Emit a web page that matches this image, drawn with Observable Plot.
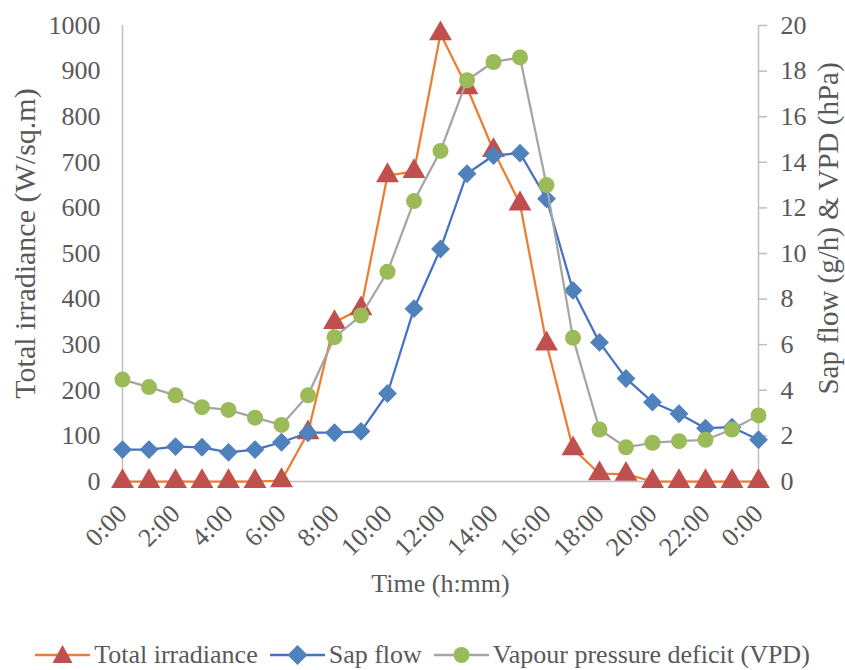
<!DOCTYPE html>
<html><head><meta charset="utf-8">
<script src="https://cdn.jsdelivr.net/npm/d3@7"></script>
<script src="https://cdn.jsdelivr.net/npm/@observablehq/plot@0.6"></script>
<style>
html,body{margin:0;padding:0;background:#fff;overflow:hidden;}
body{font-family:"Liberation Serif",Tinos,"Times New Roman","Noto Serif","DejaVu Serif",serif;color:#595959;}
#chart{width:845px;height:615px;}
.legend{display:flex;justify-content:center;align-items:center;font-size:26px;height:34px;margin-top:23px;white-space:nowrap;}
.legend .item{display:flex;align-items:center;margin:0 6px;}
.legend svg{margin-right:4px;}
</style></head><body>
<div id="chart"></div>
<div class="legend" id="legend"></div>
<script>
const timeLabels = ["0:00","1:00","2:00","3:00","4:00","5:00","6:00","7:00","8:00","9:00","10:00","11:00","12:00","13:00","14:00","15:00","16:00","17:00","18:00","19:00","20:00","21:00","22:00","23:00","0:00"];
const irradiance = [0,0,0,0,0,0,2,107,349,379,671,680,982,864,726,609,302,72,17,16,0,0,0,0,0];
const sapFlow = [1.40,1.40,1.53,1.50,1.28,1.40,1.72,2.14,2.14,2.20,3.86,7.58,10.2,13.5,14.3,14.4,12.4,8.38,6.1,4.52,3.48,2.97,2.34,2.38,1.83];
const vpd = [4.47,4.14,3.78,3.26,3.14,2.80,2.48,3.78,6.33,7.28,9.2,12.3,14.5,17.6,18.4,18.6,13.0,6.3,2.28,1.5,1.7,1.77,1.83,2.28,2.9];
const xTickIndex = [0,2,4,6,8,10,12,14,16,18,20,22,24];
const leftTicks = [0,100,200,300,400,500,600,700,800,900,1000];
const seriesNames = ["Total irradiance","Sap flow","Vapour pressure deficit (VPD)"];

const k = 50; // secondary axis: 20 units -> 1000
const rows = timeLabels.map((t,i)=>({i, t, irr: irradiance[i], sap: sapFlow[i]*k, vpd: vpd[i]*k}));

const txt = "#595959", axisGray = "#bfbfbf";
const cIrrLine="#ED7D31", cIrrMark="#C0504D", cSapLine="#4472C4", cSapMark="#4F81BD", cVpdLine="#A5A5A5", cVpdMark="#9BBB59";
const FONT = '"Liberation Serif",Tinos,"Times New Roman","Noto Serif","DejaVu Serif",serif';

const plot = Plot.plot({
  width: 845, height: 615,
  marginLeft: 122, marginRight: 87, marginTop: 25, marginBottom: 134,
  style: {fontFamily: FONT, fontSize: "26px", color: txt, background: "#fff"},
  x: {type: "linear", domain: [0,24]},
  y: {domain: [0,1000]},
  marks: [
    Plot.ruleY([0], {stroke: axisGray, strokeWidth: 1.5}),
    Plot.ruleX([0,24], {stroke: axisGray, strokeWidth: 1.5}),
    Plot.axisX(xTickIndex, {tickFormat: i=>timeLabels[i], tickRotate: -45, tickSize: 0, tickPadding: 8, textAnchor: "end", lineAnchor: "middle", dx: 0, dy: 20, fontSize: 26, fill: txt, label: null}),
    Plot.axisY(leftTicks, {anchor: "left", tickSize: 0, tickPadding: 22, fontSize: 26, fill: txt, tickFormat: d=>String(d), label: null}),
    Plot.axisY(leftTicks, {anchor: "right", tickSize: 8, tickPadding: 14, stroke: axisGray, strokeWidth: 1.5, fill: txt, fontSize: 26, tickFormat: d=>String(d/k), label: null}),
    Plot.line(rows, {x: "i", y: "irr", stroke: cIrrLine, strokeWidth: 2.25}),
    Plot.dot(rows, {x: "i", y: "irr", symbol: "triangle", r: 8.5, fill: cIrrMark, stroke: "none"}),
    Plot.line(rows, {x: "i", y: "sap", stroke: cSapLine, strokeWidth: 2.25}),
    Plot.dot(rows, {x: "i", y: "sap", symbol: "diamond2", r: 8.5, fill: cSapMark, stroke: "none"}),
    Plot.line(rows, {x: "i", y: "vpd", stroke: cVpdLine, strokeWidth: 2.25}),
    Plot.dot(rows, {x: "i", y: "vpd", symbol: "circle", r: 8, fill: cVpdMark, stroke: "none"}),
    Plot.text(["Time (h:mm)"], {frameAnchor: "bottom", dy: 110, lineAnchor: "bottom", fontSize: 26, fill: txt}),
    Plot.text(["Total irradiance (W/sq.m)"], {frameAnchor: "left", dx: -97, dy: -10, rotate: -90, textAnchor: "middle", lineAnchor: "middle", fontSize: 30, fill: txt}),
    Plot.text(["Sap flow (g/h) & VPD (hPa)"], {frameAnchor: "right", dx: 70, dy: -25, rotate: -90, textAnchor: "middle", lineAnchor: "middle", fontSize: 29, fill: txt})
  ]
});
document.getElementById("chart").appendChild(plot);

// legend
const icons = [
  `<line x1="0" y1="15" x2="55" y2="15" stroke="${cIrrLine}" stroke-width="2.5"/><polygon points="27.5,5 37.5,23 17.5,23" fill="${cIrrMark}"/>`,
  `<line x1="0" y1="15" x2="55" y2="15" stroke="${cSapLine}" stroke-width="2.5"/><polygon points="27.5,5 37.5,15 27.5,25 17.5,15" fill="${cSapMark}"/>`,
  `<line x1="0" y1="15" x2="55" y2="15" stroke="${cVpdLine}" stroke-width="2.5"/><circle cx="27.5" cy="15" r="8" fill="${cVpdMark}"/>`
];
const lg = document.getElementById("legend");
seriesNames.forEach((name, j) => {
  const d = document.createElement("div");
  d.className = "item";
  d.innerHTML = `<svg width="55" height="30" viewBox="0 0 55 30">${icons[j]}</svg><span>${name}</span>`;
  lg.appendChild(d);
});
</script>
</body></html>
